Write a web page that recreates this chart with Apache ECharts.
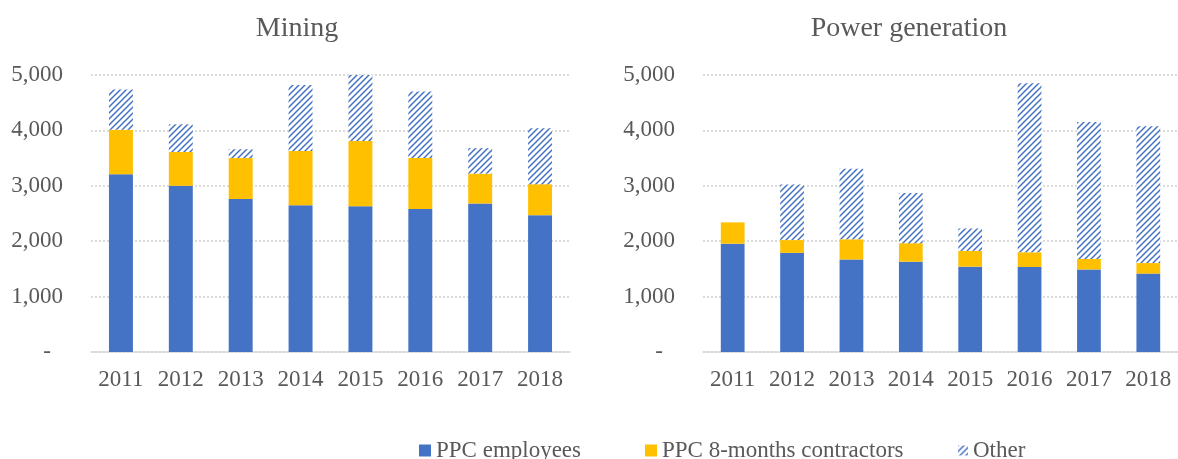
<!DOCTYPE html>
<html>
<head>
<meta charset="utf-8">
<script src="https://cdn.jsdelivr.net/npm/echarts@6/dist/echarts.min.js"></script>
<style>
  html, body { margin: 0; padding: 0; background: #fff; }
  #chart { width: 1178px; height: 459px; }
</style>
</head>
<body>
<div id="chart"></div>
<script>
// 数据
var years = ['2011', '2012', '2013', '2014', '2015', '2016', '2017', '2018'];
var miningEmployees   = [3210, 3000, 2760, 2650, 2630, 2580, 2680, 2470];
var miningContractors = [800, 610, 740, 980, 1180, 920, 540, 560];
var miningOther       = [730, 500, 160, 1190, 1190, 1200, 460, 1010];
var powerEmployees    = [1955, 1790, 1670, 1630, 1540, 1535, 1490, 1415];
var powerContractors  = [385, 230, 365, 335, 285, 265, 190, 190];
var powerOther        = [0, 1005, 1275, 905, 405, 3050, 2470, 2470];
var yTicks = [0, 1000, 2000, 3000, 4000, 5000];

var textColor = '#595959';
var font = '"Liberation Serif", "DejaVu Serif", serif';

// 斜线填充
function hatch() {
    var s = 6;
    var c = document.createElement('canvas');
    c.width = s; c.height = s;
    var ctx = c.getContext('2d');
    ctx.fillStyle = '#fff';
    ctx.fillRect(0, 0, s, s);
    ctx.strokeStyle = '#4472C4';
    ctx.lineWidth = 1.5;
    ctx.beginPath();
    ctx.moveTo(0, s); ctx.lineTo(s, 0);
    ctx.moveTo(-1, 1); ctx.lineTo(1, -1);
    ctx.moveTo(s - 1, s + 1); ctx.lineTo(s + 1, s - 1);
    ctx.stroke();
    return { image: c, repeat: 'repeat' };
}
var otherFill = hatch();

function yAxis(idx) {
    return {
        type: 'value', gridIndex: idx, min: yTicks[0], max: yTicks[yTicks.length - 1], interval: 1000,
        axisLine: { show: false }, axisTick: { show: false },
        splitLine: { lineStyle: { color: '#CFCFCF', type: [2, 2], width: 1.5 } },
        axisLabel: {
            color: textColor, fontFamily: font, fontSize: 23, margin: 28,
            formatter: function (v) {
                return v === 0 ? '{d|-}' : v.toLocaleString('en-US');
            },
            rich: { d: { color: textColor, fontFamily: font, fontSize: 23, padding: [0, 12, 0, 0] } }
        }
    };
}
function xAxis(idx) {
    return {
        type: 'category', gridIndex: idx, data: years,
        axisLine: { lineStyle: { color: '#D9D9D9', width: 1.5 } },
        axisTick: { show: false },
        axisLabel: { color: textColor, fontFamily: font, fontSize: 23, margin: 16, interval: 0, hideOverlap: false }
    };
}
function bar(name, data, idx, color) {
    return {
        name: name, type: 'bar', stack: 's' + idx, xAxisIndex: idx, yAxisIndex: idx,
        barWidth: '40%', data: data, itemStyle: { color: color }
    };
}
function legend(name, left, size) {
    return {
        data: [name], left: left, top: 434, icon: 'rect', itemWidth: size, itemHeight: size, itemGap: 5,
        textStyle: { color: textColor, fontFamily: font, fontSize: 23 }
    };
}

var chart = echarts.init(document.getElementById('chart'));
chart.setOption({
    animation: false,
    title: [
        { text: 'Mining', left: 292, top: 10, textAlign: 'center',
          textStyle: { color: textColor, fontFamily: font, fontSize: 28, fontWeight: 'normal' } },
        { text: 'Power generation', left: 904, top: 10, textAlign: 'center',
          textStyle: { color: textColor, fontFamily: font, fontSize: 28, fontWeight: 'normal' } }
    ],
    legend: [
        legend('PPC employees', 414, 12),
        legend('PPC 8-months contractors', 640, 12),
        legend('Other', 953, 10)
    ],
    grid: [
        { left: 91, right: 608, top: 75, bottom: 107 },
        { left: 703, right: -4, top: 75, bottom: 107 }
    ],
    xAxis: [xAxis(0), xAxis(1)],
    yAxis: [yAxis(0), yAxis(1)],
    series: [
        bar('PPC employees', miningEmployees, 0, '#4472C4'),
        bar('PPC 8-months contractors', miningContractors, 0, '#FFC000'),
        bar('Other', miningOther, 0, otherFill),
        bar('PPC employees', powerEmployees, 1, '#4472C4'),
        bar('PPC 8-months contractors', powerContractors, 1, '#FFC000'),
        bar('Other', powerOther, 1, otherFill)
    ]
});
</script>
</body>
</html>
